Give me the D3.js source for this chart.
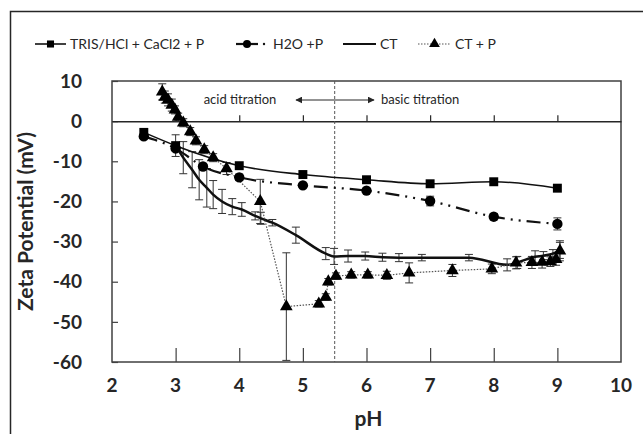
<!DOCTYPE html>
<html>
<head>
<meta charset="utf-8">
<script src="https://cdn.jsdelivr.net/npm/d3@7"></script>
<style>
  body { margin: 0; background: #fff; }
  svg { font-family: Lato, "Open Sans", sans-serif; }
</style>
</head>
<body>
<svg id="chart" width="643" height="434"></svg>
<script>
// TRIS/HCl + CaCl2 + P
const phTris = [2.5, 3.0, 4.0, 5.0, 6.0, 7.0, 8.0, 9.0];
const zpTris = [-2.8, -6.1, -11.1, -13.3, -14.6, -15.6, -15.1, -16.7];

// H2O + P
const phWater = [2.5, 3.0, 3.43, 4.0, 5.0, 6.0, 7.0, 8.0, 9.0];
const zpWater = [-3.8, -6.8, -11.3, -14.0, -16.0, -17.3, -19.9, -23.8, -25.6];
const errWater = [0, 0, 0, 0.8, 0, 0, 1.2, 0.8, 1.5];

// CT
const phCT = [3.0, 3.12, 3.26, 3.37, 3.49, 3.59, 3.73, 3.89, 4.04, 4.25, 4.34, 4.52, 4.89,
  5.36, 5.49, 5.71, 5.98, 6.25, 6.51, 6.87, 7.61, 8.21, 8.37, 8.65, 8.78, 8.93, 9.04];
const zpCT = [-6.1, -9.1, -12.1, -14.6, -16.6, -18.3, -20.0, -21.3, -22.0, -23.6, -24.2, -25.3, -28.4,
  -33.0, -33.7, -33.6, -33.6, -33.9, -34.0, -34.0, -34.0, -35.8, -35.2, -33.8, -33.5, -33.0, -32.2];
const errCT = [2.7, 4, 4.5, 5, 4.8, 3.5, 3, 2, 1.7, 1, 1.5, 0.8, 2,
  1.5, 2, 1.5, 1, 1, 1, 0.8, 0.8, 1.5, 1.5, 1.5, 1, 1, 2];

// CT + P
const phCTP = [2.79, 2.83, 2.88, 2.94, 2.99, 3.04, 3.12, 3.23, 3.32, 3.45, 3.59, 3.8, 4.33, 4.74,
  5.25, 5.36, 5.40, 5.52, 5.76, 6.02, 6.32, 6.67, 7.35, 7.97, 8.35, 8.6, 8.76, 8.89, 8.98, 9.04];
const zpCTP = [7.3, 6.0, 5.3, 4.0, 2.8, 1.0, -0.4, -2.6, -4.9, -7.1, -9.1, -11.8, -20, -46.2,
  -45.5, -43.8, -40, -38.6, -38.3, -38.3, -38.4, -37.8, -37.2, -36.8, -35.3, -35.2, -35.1, -35, -34.4, -32.3];
const errCTP = [2, 1.5, 1.5, 1.5, 1, 1, 1, 1, 1, 1, 1, 1.5, 5.5, 13.4,
  0.8, 0.8, 0.8, 0.8, 0.8, 0.8, 1, 2.5, 1.5, 1.2, 1.5, 1.5, 1.5, 1.2, 1.5, 2.5];

const xTicks = [2, 3, 4, 5, 6, 7, 8, 9, 10];
const yTicks = [10, 0, -10, -20, -30, -40, -50, -60];
const legendNames = ["TRIS/HCl + CaCl2 + P", "H2O +P", "CT", "CT + P"];

let svg = d3.select("svg#chart"),
	pLeft = 112, pRight = 621, pTop = 81, pBottom = 362;

let x = d3.scaleLinear().domain([2, 10]).range([pLeft, pRight]);
let y = d3.scaleLinear().domain([-60, 10]).range([pBottom, pTop]);

let ink = "#262626";

// outer frame
svg.append("rect").attr("x", 10.5).attr("y", 11.5).attr("width", 640).attr("height", 430)
	.attr("fill", "none").attr("stroke", ink).attr("stroke-width", 1.5);

// plot box
svg.append("rect").attr("x", pLeft).attr("y", pTop).attr("width", pRight - pLeft).attr("height", pBottom - pTop)
	.attr("fill", "none").attr("stroke", "#404040").attr("stroke-width", 1.5);

// y ticks (inside)
svg.append("g").attr("transform", "translate(" + pLeft + ",0)")
	.call(d3.axisRight(y).tickValues(yTicks).tickSize(6).tickFormat(""))
	.call(g => g.select(".domain").remove())
	.selectAll("line").attr("stroke", "#404040").attr("stroke-width", 1.2);

// y labels
svg.append("g").selectAll("text").data(yTicks).enter().append("text")
	.attr("x", pLeft - 30).attr("y", d => y(d)).attr("dy", "0.35em")
	.attr("text-anchor", "end").attr("font-size", 19).attr("font-weight", "bold").attr("fill", ink)
	.text(d => d);

// bottom x ticks (inside, upward)
svg.append("g").attr("transform", "translate(0," + pBottom + ")")
	.call(d3.axisTop(x).tickValues(xTicks.slice(1, -1)).tickSize(14).tickFormat(""))
	.call(g => g.select(".domain").remove())
	.selectAll("line").attr("stroke", "#404040").attr("stroke-width", 1.2);

// zero line with small ticks
svg.append("g").attr("transform", "translate(0," + y(0) + ")")
	.call(d3.axisTop(x).tickValues(xTicks.slice(1, -1)).tickSize(6).tickSizeOuter(0).tickFormat(""))
	.call(g => g.select(".domain").attr("stroke", ink).attr("stroke-width", 1.5))
	.selectAll("line").attr("stroke", ink).attr("stroke-width", 1.2);

// x labels
svg.append("g").selectAll("text").data(xTicks).enter().append("text")
	.attr("x", d => x(d)).attr("y", pBottom + 30)
	.attr("text-anchor", "middle").attr("font-size", 19).attr("font-weight", "bold").attr("fill", ink)
	.text(d => d);

// axis titles
svg.append("text").attr("x", (pLeft + pRight) / 2 + 2).attr("y", 426)
	.attr("text-anchor", "middle").attr("font-size", 21).attr("font-weight", "bold").attr("fill", ink)
	.text("pH");
svg.append("text").attr("transform", "translate(33," + ((pTop + pBottom) / 2) + ") rotate(-90)")
	.attr("text-anchor", "middle").attr("font-size", 21).attr("font-weight", "bold").attr("fill", ink)
	.text("Zeta Potential (mV)");

// titration divider
svg.append("line").attr("x1", x(5.5)).attr("x2", x(5.5)).attr("y1", pTop).attr("y2", pBottom)
	.attr("stroke", "#555").attr("stroke-width", 1).attr("stroke-dasharray", "3,2");

svg.append("defs").selectAll("marker").data(["arrowL", "arrowR"]).enter().append("marker")
	.attr("id", d => d).attr("viewBox", "0 0 10 10").attr("refX", 9).attr("refY", 5)
	.attr("markerWidth", 7).attr("markerHeight", 7).attr("orient", "auto-start-reverse")
	.append("path").attr("d", "M0,0 L10,5 L0,10 z").attr("fill", ink);

svg.append("line").attr("x1", 296).attr("x2", 374).attr("y1", 100).attr("y2", 100)
	.attr("stroke", ink).attr("stroke-width", 1)
	.attr("marker-start", "url(#arrowL)").attr("marker-end", "url(#arrowR)");
svg.append("text").attr("x", 240).attr("y", 104).attr("text-anchor", "middle")
	.attr("font-size", 13).attr("fill", ink).text("acid titration");
svg.append("text").attr("x", 381).attr("y", 104).attr("text-anchor", "start")
	.attr("font-size", 13).attr("fill", ink).text("basic titration");

// series
let smooth = d3.line().x(d => x(d[0])).y(d => y(d[1])).curve(d3.curveMonotoneX);
let straight = d3.line().x(d => x(d[0])).y(d => y(d[1]));

let tris = d3.zip(phTris, zpTris);
let water = d3.zip(phWater, zpWater, errWater);
let ct = d3.zip(phCT, zpCT, errCT);
let ctp = d3.zip(phCTP, zpCTP, errCTP);

function errorBars(data) {
	let g = svg.append("g").attr("stroke", "#333").attr("stroke-width", 1).attr("fill", "none");
	data.filter(d => d[2] > 0).forEach(d => {
		let cx = x(d[0]), y0 = y(d[1] - d[2]), y1 = y(d[1] + d[2]);
		g.append("line").attr("x1", cx).attr("x2", cx).attr("y1", y0).attr("y2", y1);
		g.append("line").attr("x1", cx - 4).attr("x2", cx + 4).attr("y1", y0).attr("y2", y0);
		g.append("line").attr("x1", cx - 4).attr("x2", cx + 4).attr("y1", y1).attr("y2", y1);
	});
}

errorBars(ct);
errorBars(ctp);
errorBars(water);

svg.append("path").datum(ct).attr("d", smooth)
	.attr("fill", "none").attr("stroke", "#111").attr("stroke-width", 2.5);

svg.append("path").datum(ctp).attr("d", straight)
	.attr("fill", "none").attr("stroke", "#555").attr("stroke-width", 1.2).attr("stroke-dasharray", "1.5,1.5");

svg.append("path").datum(water).attr("d", smooth)
	.attr("fill", "none").attr("stroke", "#111").attr("stroke-width", 2.2).attr("stroke-dasharray", "14,6,2,6,2,6");

svg.append("path").datum(tris).attr("d", smooth)
	.attr("fill", "none").attr("stroke", "#111").attr("stroke-width", 1.6);

let sym = {
	square: d3.symbol().type(d3.symbolSquare).size(80),
	circle: d3.symbol().type(d3.symbolCircle).size(85),
	triangle: d3.symbol().type(d3.symbolTriangle).size(70)
};

svg.append("g").selectAll("path").data(ctp).enter().append("path")
	.attr("transform", d => "translate(" + x(d[0]) + "," + y(d[1]) + ")")
	.attr("d", sym.triangle).attr("fill", "#000");
svg.append("g").selectAll("path").data(water).enter().append("path")
	.attr("transform", d => "translate(" + x(d[0]) + "," + y(d[1]) + ")")
	.attr("d", sym.circle).attr("fill", "#000");
svg.append("g").selectAll("path").data(tris).enter().append("path")
	.attr("transform", d => "translate(" + x(d[0]) + "," + y(d[1]) + ")")
	.attr("d", sym.square).attr("fill", "#000");

// legend
let legend = svg.append("g").attr("transform", "translate(0,44)");
let items = [
	{ x0: 35, x1: 66, mark: "square", dash: null, w: 1.6, tx: 70 },
	{ x0: 236, x1: 258, mark: "circle", dash: null, w: 2.2, tx: 273 },
	{ x0: 343, x1: 376, mark: null, dash: null, w: 2.2, tx: 380 },
	{ x0: 418, x1: 451, mark: "triangle", dash: "1.5,1.5", w: 1.2, tx: 455 }
];
items.forEach((it, i) => {
	legend.append("line").attr("x1", it.x0).attr("x2", it.x1).attr("y1", 0).attr("y2", 0)
		.attr("stroke", it.dash ? "#555" : "#111").attr("stroke-width", it.w)
		.attr("stroke-dasharray", it.dash);
	if (it.mark) legend.append("path").attr("transform", "translate(" + ((it.x0 + it.x1) / 2) + ",0)")
		.attr("d", d3.symbol().type(it.mark === "square" ? d3.symbolSquare : it.mark === "circle" ? d3.symbolCircle : d3.symbolTriangle).size(50))
		.attr("fill", "#000");
	if (i === 1) legend.append("circle").attr("cx", 264).attr("cy", 0).attr("r", 1.2).attr("fill", "#111");
	legend.append("text").attr("x", it.tx).attr("y", 0).attr("dy", "0.35em")
		.attr("font-size", 14).attr("fill", ink).text(legendNames[i]);
});
</script>
</body>
</html>
